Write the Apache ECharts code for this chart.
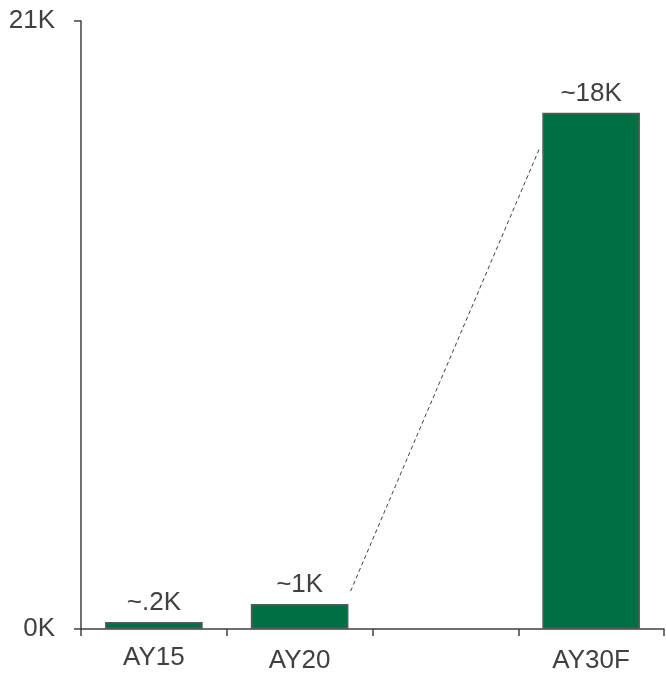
<!DOCTYPE html>
<html>
<head>
<meta charset="utf-8">
<script src="https://cdn.jsdelivr.net/npm/echarts@6/dist/echarts.min.js"></script>
<style>
  html, body { margin: 0; padding: 0; background: #fff; }
  #chart { width: 666px; height: 674px; }
</style>
</head>
<body>
<div id="chart"></div>
<script>
// categories (third slot is an empty gap on the axis)
const categories = ['AY15', 'AY20', '', 'AY30F'];
const values = [240, 860, '-', 17830];
const valueLabels = ['~.2K', '~1K', '', '~18K'];
// y axis
const yMin = 0;
const yMax = 21000;
// dashed connector between AY20 and AY30F (x in category index units)
const connectorX = [1.35, 2.65];
const connectorY = [1310, 16650];

const axisColor = '#404040';
const textStyle = { fontFamily: 'Liberation Sans, Arial, sans-serif', fontSize: 26, color: '#404040' };

const chart = echarts.init(document.getElementById('chart'));
chart.setOption({
    animation: false,
    grid: { left: 81, right: 2, top: 21, bottom: 44, containLabel: false },
    xAxis: [
        {
            type: 'category',
            data: categories,
            axisLine: { lineStyle: { color: axisColor, width: 1.5 } },
            axisTick: { show: true, length: 7, lineStyle: { color: axisColor, width: 1.5 } },
            axisLabel: Object.assign({
                margin: 16,
                interval: 0,
                // the later labels sit a little lower in the original
                formatter: (v, i) => i === 0 ? '{a|' + v + '}' : '{b|' + v + '}',
                rich: {
                    a: Object.assign({}, textStyle),
                    b: Object.assign({ padding: [3, 0, 0, 0] }, textStyle),
                },
            }, textStyle),
        },
        {
            type: 'value',
            min: -0.5,
            max: 3.5,
            show: false,
        },
    ],
    yAxis: {
        type: 'value',
        min: yMin,
        max: yMax,
        interval: yMax - yMin,
        splitLine: { show: false },
        axisLine: { show: true, onZero: false, lineStyle: { color: axisColor, width: 1.5 } },
        axisTick: { show: true, length: 7, lineStyle: { color: axisColor, width: 1.5 } },
        axisLabel: Object.assign({
            margin: 26,
            formatter: v => (v / 1000) + 'K',
        }, textStyle),
    },
    series: [
        {
            type: 'bar',
            data: values,
            barWidth: '67%',
            itemStyle: { color: '#006f44', borderColor: '#595959', borderWidth: 1.5 },
            label: Object.assign({
                show: true,
                position: 'top',
                distance: 6,
                formatter: p => valueLabels[p.dataIndex],
            }, textStyle),
        },
        {
            type: 'line',
            xAxisIndex: 1,
            data: connectorX.map((x, i) => [x, connectorY[i]]),
            symbol: 'none',
            lineStyle: { color: '#404040', width: 1, type: [4, 3] },
        },
    ],
});
</script>
</body>
</html>
